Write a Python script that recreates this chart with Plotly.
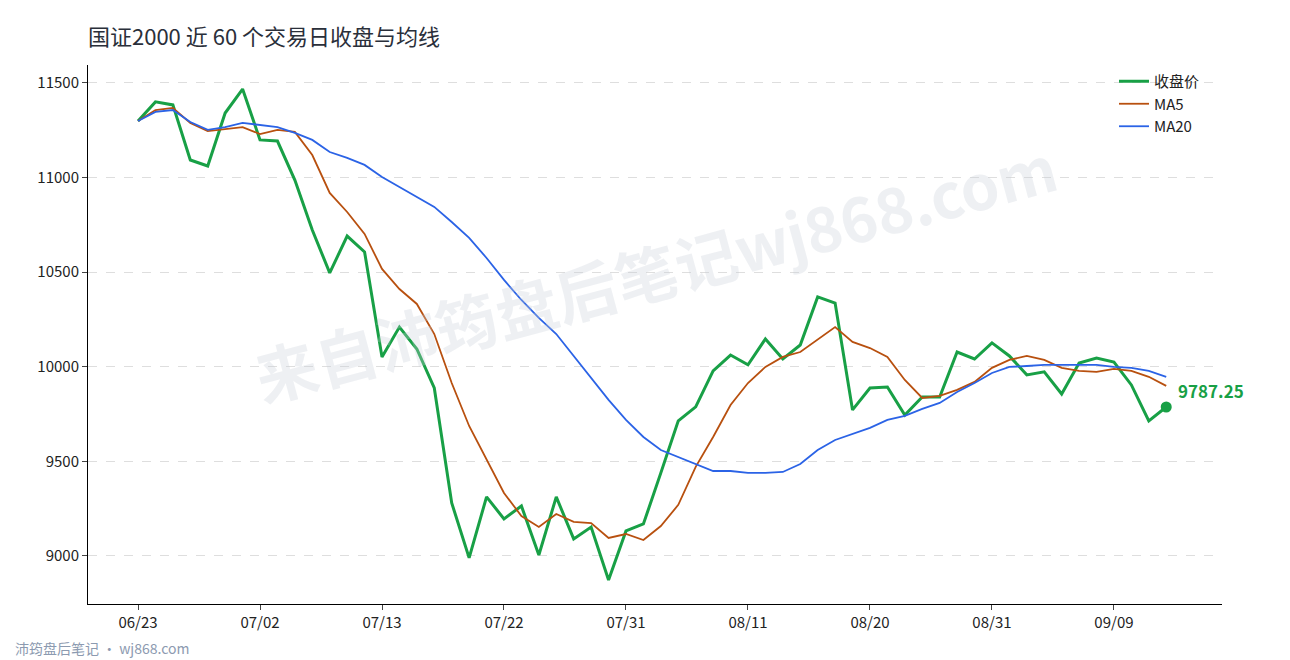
import plotly.graph_objects as go

# 60 trading days, ticks every 7th day
tick_labels = ["06/23", "07/02", "07/13", "07/22", "07/31", "08/11", "08/20", "08/31", "09/09"]

close = [11299, 11400, 11384, 11093, 11061, 11341, 11468, 11199, 11193, 10987,
         10723, 10496, 10691, 10607, 10052, 10210, 10094, 9888, 9280, 8990,
         9312, 9196, 9264, 9005, 9312, 9090, 9153, 8873, 9132, 9169,
         9439, 9714, 9788, 9978, 10062, 10010, 10147, 10041, 10115, 10369,
         10337, 9772, 9888, 9893, 9745, 9840, 9840, 10078, 10041, 10126,
         10057, 9957, 9973, 9856, 10020, 10046, 10025, 9904, 9714, 9787.25]

ma5 = [11299, 11357, 11368, 11289, 11246, 11257, 11267, 11230, 11252, 11241,
       11119, 10919, 10818, 10702, 10517, 10411, 10332, 10173, 9914, 9687,
       9507, 9333, 9211, 9153, 9222, 9180, 9174, 9095, 9116, 9084,
       9158, 9270, 9471, 9629, 9798, 9914, 9999, 10052, 10078, 10142,
       10210, 10131, 10099, 10052, 9930, 9835, 9846, 9878, 9920, 9994,
       10036, 10057, 10036, 9994, 9978, 9973, 9989, 9978, 9947, 9899]

ma20 = [11299, 11347, 11357, 11294, 11252, 11267, 11289, 11278, 11267, 11236,
        11199, 11135, 11104, 11067, 11003, 10950, 10897, 10845, 10765, 10681,
        10575, 10459, 10353, 10258, 10173, 10057, 9941, 9825, 9719, 9629,
        9560, 9523, 9486, 9449, 9449, 9439, 9439, 9444, 9486, 9560,
        9613, 9645, 9677, 9719, 9740, 9777, 9809, 9867, 9914, 9967,
        9999, 10004, 10010, 10010, 10010, 10010, 9999, 9994, 9978, 9947]

x = list(range(len(close)))
green = "#18a046"

fig = go.Figure()
fig.add_trace(go.Scatter(x=x, y=close, mode="lines", name="收盘价",
                         line=dict(color=green, width=3)))
fig.add_trace(go.Scatter(x=x, y=ma5, mode="lines", name="MA5",
                         line=dict(color="#b8500f", width=1.8)))
fig.add_trace(go.Scatter(x=x, y=ma20, mode="lines", name="MA20",
                         line=dict(color="#2b63e6", width=1.8)))
fig.add_trace(go.Scatter(x=[x[-1]], y=[close[-1]], mode="markers", showlegend=False,
                         marker=dict(color=green, size=11)))
fig.add_annotation(x=x[-1], y=close[-1], text="<b>%.2f</b>" % close[-1], showarrow=False,
                   xanchor="left", yanchor="bottom", xshift=10, yshift=2,
                   font=dict(color=green, size=17))

# watermark + footer
fig.add_annotation(xref="paper", yref="paper", x=0.5, y=0.62, text="<b>来自沛筠盘后笔记wj868.com</b>",
                   showarrow=False, textangle=-15, font=dict(size=62, color="rgba(200,205,215,0.3)"))
fig.add_annotation(xref="paper", yref="paper", x=-0.066, y=-0.082, xanchor="left", yanchor="middle",
                   text="沛筠盘后笔记 · wj868.com", showarrow=False,
                   font=dict(size=14, color="#8c9ab0"))

fig.update_layout(
    width=1290, height=660,
    margin=dict(l=80, r=76, t=57, b=64),
    paper_bgcolor="white", plot_bgcolor="white",
    font=dict(family="Noto Sans CJK SC, Noto Sans", size=15, color="#222"),
    title=dict(text="国证2000 近 60 个交易日收盘与均线", x=0.062, xanchor="left",
               y=0.956, yanchor="middle", font=dict(size=22, color="#2a2f3a")),
    legend=dict(x=0.985, y=1.0, xanchor="right", yanchor="top", bgcolor="rgba(0,0,0,0)",
                font=dict(size=15)),
)
fig.update_xaxes(range=[-2.87, 62.2], tickvals=list(range(0, 60, 7)), ticktext=tick_labels,
                 showgrid=False, showline=True, linecolor="black", ticks="outside",
                 ticklen=5, zeroline=False, automargin=False)
fig.update_yaxes(range=[8746, 11595], tickvals=[9000, 9500, 10000, 10500, 11000, 11500],
                 tickformat="d", automargin=False,
                 showgrid=True, gridcolor="#dedede", griddash="dash", showline=True,
                 linecolor="black", ticks="outside", ticklen=5, zeroline=False)

fig.write_html("out.html")
